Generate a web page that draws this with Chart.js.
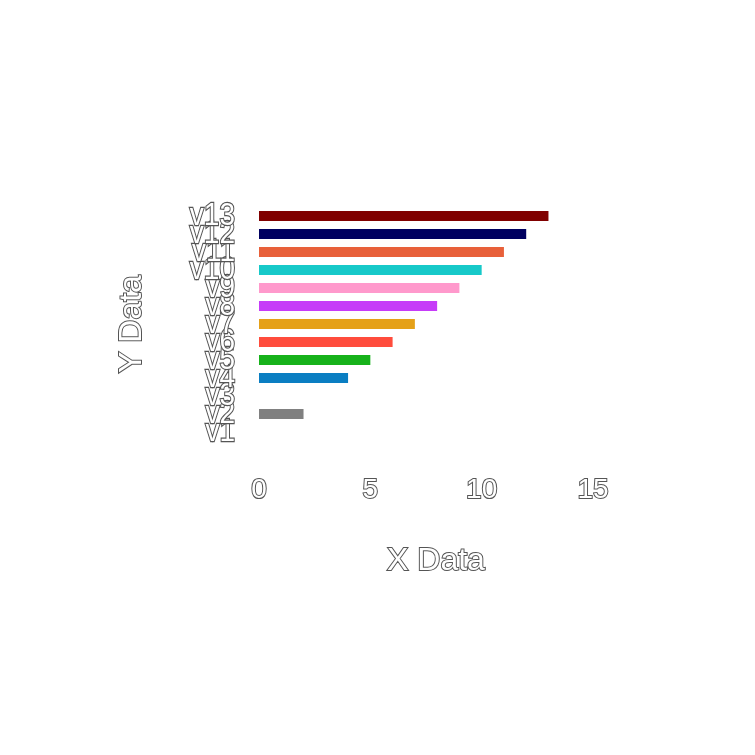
<!DOCTYPE html>
<html>
<head>
<meta charset="utf-8">
<script src="https://cdn.jsdelivr.net/npm/chart.js@4/dist/chart.umd.min.js"></script>
<style>
  html, body { margin: 0; padding: 0; background: #fff; }
  #wrap { width: 755px; height: 755px; }
</style>
</head>
<body>
<div id="wrap"><canvas id="myChart"></canvas></div>
<script>
  var categories = ['v1', 'v2', 'v3', 'v4', 'v5', 'v6', 'v7', 'v8', 'v9', 'v10', 'v11', 'v12', 'v13'];
  var values = [1, 2, 3, 4, 5, 6, 7, 8, 9, 10, 11, 12, 13];
  var barColors = ['#ffffff', '#808080', '#ffffff', '#0a7ec2', '#17b21b', '#ff4c3c', '#e5a118',
    '#c63cf8', '#ff99cc', '#17c9c9', '#e8603a', '#000060', '#800000'];
  var xTicks = [0, 5, 10, 15];

  var fontFamily = 'Liberation Sans, Arial, sans-serif';
  var textFont = { family: fontFamily, size: 28 };
  var titleFont = { family: fontFamily, size: 32 };
  var outline = '#555555';

  function outlinedText(ctx, text, x, y) {
    ctx.strokeText(text, x, y);
    ctx.fillText(text, x, y);
  }

  // white text with a thin dark edge, like the reference
  var outlineText = {
    id: 'outlineText',
    afterDraw: function (chart) {
      var ctx = chart.ctx;
      var area = chart.chartArea;
      var yScale = chart.scales.y;
      ctx.save();
      ctx.lineWidth = 2;
      ctx.strokeStyle = outline;
      ctx.fillStyle = '#ffffff';

      // y category labels, a bit taller than wide
      ctx.font = textFont.size + 'px ' + fontFamily;
      ctx.textAlign = 'right';
      ctx.textBaseline = 'middle';
      yScale.ticks.forEach(function (tick, i) {
        var py = yScale.getPixelForTick(i);
        ctx.save();
        ctx.translate(yScale.right - 24, py);
        ctx.scale(1, 1.15);
        outlinedText(ctx, yScale.getLabelForValue(tick.value), 0, 0);
        ctx.restore();
      });

      // axis titles
      ctx.font = titleFont.size + 'px ' + fontFamily;
      ctx.textAlign = 'center';
      outlinedText(ctx, 'X Data', (area.left + area.right) / 2 + 10, 561);

      ctx.translate(132, (area.top + area.bottom) / 2);
      ctx.rotate(-Math.PI / 2);
      outlinedText(ctx, 'Y Data', 0, 0);
      ctx.restore();
    }
  };

  var ctx = document.getElementById('myChart').getContext('2d');
  var chart = new Chart(ctx, {
    type: 'bar',
    data: {
      labels: categories,
      datasets: [{
        data: values,
        backgroundColor: barColors,
        borderWidth: 0,
        categoryPercentage: 1,
        barPercentage: 0.55
      }]
    },
    options: {
      indexAxis: 'y',
      responsive: true,
      maintainAspectRatio: false,
      animation: false,
      layout: {
        padding: { top: 207, right: 162, bottom: 0, left: 0 }
      },
      scales: {
        x: {
          min: 0,
          max: 15,
          afterBuildTicks: function (scale) {
            scale.ticks = xTicks.map(function (v) { return { value: v }; });
          },
          afterFit: function (scale) { scale.height = 755 - 441; },
          grid: { display: false, drawTicks: false },
          border: { display: false },
          ticks: {
            color: '#ffffff',
            textStrokeColor: outline,
            textStrokeWidth: 2,
            font: textFont,
            padding: 32,
            maxRotation: 0
          }
        },
        y: {
          reverse: true,
          afterFit: function (scale) { scale.width = 259; },
          grid: { display: false, drawTicks: false },
          border: { display: false },
          ticks: {
            color: 'rgba(0,0,0,0)',
            font: textFont,
            padding: 24,
            autoSkip: false
          }
        }
      },
      plugins: {
        legend: { display: false },
        tooltip: { enabled: false }
      }
    },
    plugins: [outlineText]
  });
</script>
</body>
</html>
